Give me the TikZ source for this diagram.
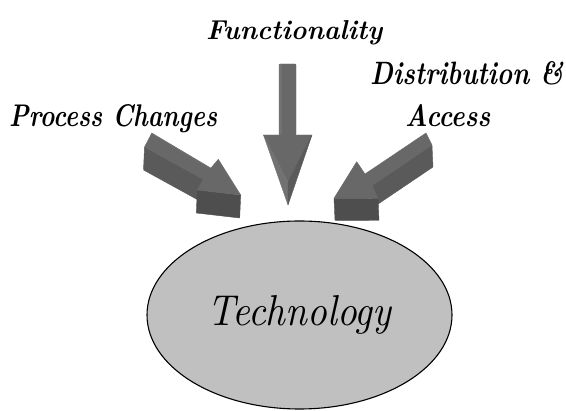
\documentclass[tikz,border=0pt]{standalone}
\usepackage{graphicx}
\usetikzlibrary{shapes.geometric}
\definecolor{topF}{HTML}{686868}
\definecolor{rimF}{HTML}{727272}
\definecolor{sideF}{HTML}{5A5A5A}
\definecolor{frontF}{HTML}{4E4E4E}
\definecolor{ellF}{HTML}{C0C0C0}
\newcommand\fitwh[3]{\resizebox{#1}{#2}{#3}}
\begin{document}
\begin{tikzpicture}[x=1pt,y=-1pt,
  face/.style={line width=0.4pt,line join=round},
  topface/.style={face,fill=topF,draw=topF},
  sideface/.style={face,fill=sideF,draw=sideF},
  frontface/.style={face,fill=frontF,draw=frontF},
  lbl/.style={inner sep=0pt,anchor=base west,font=\bfseries\itshape},
  blob/.style={ellipse,draw=black,line width=1.1pt,fill=ellF,inner sep=0pt,
    minimum width=305pt,minimum height=188pt,font=\itshape}]
\useasboundingbox (0,0) rectangle (566,411);

% central ellipse
\node[blob] (tech) at (299.5,315) {\fitwh{184pt}{30pt}{Technology}};

% labels
\node[lbl] (func) at (206,40) {\fitwh{176pt}{19pt}{Functionality}};
\node[lbl] (proc) at (9,127) {\fitwh{208pt}{22pt}{Process Changes}};
\node[lbl] (dist) at (370,85) {\fitwh{193pt}{23pt}{Distribution \&}};
\node[lbl] (acc) at (405,127) {\fitwh{85pt}{22pt}{Access}};

% ---- left arrow (Process Changes) ----
\coordinate (lA) at (151.7,133.3);
\coordinate (lJ1) at (210.7,168.3);
\coordinate (lH1) at (218.3,159.3);
\coordinate (lT) at (240.7,195);
\coordinate (lH2) at (197.3,190);
\coordinate (lJ2) at (203.3,179.3);
\coordinate (lB) at (144.5,147);
\draw[sideface] (lB) -- (lJ2) -- ([shift={(-1,23)}]lJ2) -- ([shift={(-1,23)}]lB) -- cycle;
\draw[frontface] (lH2) -- (lT) -- ([shift={(-1,23)}]lT) -- ([shift={(-1,23)}]lH2) -- cycle;
\draw[topface] (lA) -- (lJ1) -- (lH1) -- (lT) -- (lH2) -- (lJ2) -- (lB) -- cycle;
\draw[rimF,line width=1pt] (lA) -- (lJ1);

% ---- right arrow (Distribution & Access) ----
\coordinate (rA) at (426,133);
\coordinate (rJ1) at (365,174);
\coordinate (rH1) at (356.7,161.7);
\coordinate (rT) at (334,198.3);
\coordinate (rH2) at (378,198.5);
\coordinate (rJ2) at (372,185.5);
\coordinate (rB) at (432,145);
\draw[sideface] (rB) -- (rJ2) -- ([shift={(1,22)}]rJ2) -- ([shift={(1,22)}]rB) -- cycle;
\draw[frontface] (rH2) -- (rT) -- ([shift={(1,22)}]rT) -- ([shift={(1,22)}]rH2) -- cycle;
\draw[topface] (rA) -- (rJ1) -- (rH1) -- (rT) -- (rH2) -- (rJ2) -- (rB) -- cycle;

% ---- vertical arrow (Functionality) ----
\coordinate (vS1) at (279,64);
\coordinate (vS2) at (296,135);
\coordinate (vL) at (263.5,135);
\coordinate (vR) at (312,135);
\coordinate (vT) at (288,205);
\coordinate (vC) at (288,182);
\draw[topface,rounded corners=1pt] (vS1) rectangle (vS2);
\fill[rimF] (279,64) rectangle (282,135);
\draw[face,fill=topF,draw=topF] (vL) -- (vR) -- (vC) -- cycle;
\draw[face,fill=rimF,draw=rimF] (vL) -- (vC) -- (vT) -- cycle;
\draw[sideface] (vR) -- (vT) -- (vC) -- cycle;
\end{tikzpicture}
\end{document}
